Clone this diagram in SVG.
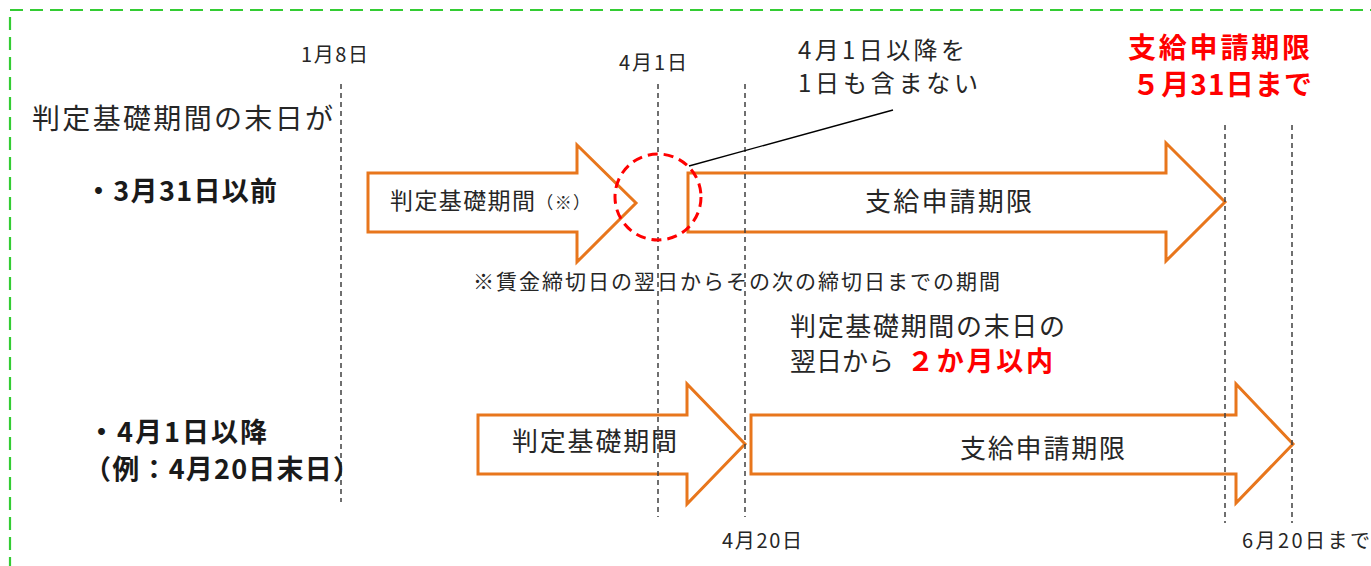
<svg xmlns="http://www.w3.org/2000/svg" width="1371" height="566" viewBox="0 0 1371 566">
<style>
text{font-family:"Noto Sans CJK JP","Noto Sans",sans-serif;fill:#262626}
.b{font-weight:bold;fill:#1a1a1a}
.r{fill:#FF0000;font-weight:bold}
.arrow{fill:#FFFFFF;stroke:#E8761C;stroke-width:3;stroke-linejoin:miter}
.guide{stroke:#404040;stroke-width:1.5;stroke-dasharray:5 4;fill:none}
</style>
<rect x="0" y="0" width="1371" height="566" fill="#FFFFFF"/>
<rect id="frame" x="10" y="10" width="1400" height="600" fill="none" stroke="#33CC33" stroke-width="2.2" stroke-dasharray="13 7"/>

<g id="arrow-top-period">
<polygon class="arrow" points="368,173 577,173 577,145 636,203 577,262 577,232 368,232"/>
<text x="390" y="209" font-size="23" textLength="200" lengthAdjust="spacing">判定基礎期間<tspan font-size="17">（※）</tspan></text>
</g>
<g id="arrow-top-deadline">
<polygon class="arrow" points="688,173 1166,173 1166,143 1225,202 1166,261 1166,232 688,232"/>
<text x="865" y="211" font-size="26" textLength="167" lengthAdjust="spacing">支給申請期限</text>
</g>
<g id="arrow-bottom-period">
<polygon class="arrow" points="478,415 687,415 687,384 745,444 687,504 687,474 478,474"/>
<text x="512" y="451" font-size="26" textLength="165" lengthAdjust="spacing">判定基礎期間</text>
</g>
<g id="arrow-bottom-deadline">
<polygon class="arrow" points="751,415 1236,415 1236,384 1293,444 1236,503 1236,474 751,474"/>
<text x="960" y="458" font-size="26" textLength="165" lengthAdjust="spacing">支給申請期限</text>
</g>

<g id="guides">
<line class="guide" x1="341" y1="84" x2="341" y2="502"/>
<line class="guide" x1="658" y1="84" x2="658" y2="517"/>
<line class="guide" x1="745" y1="84" x2="745" y2="517"/>
<line class="guide" x1="1225" y1="125" x2="1225" y2="523"/>
<line class="guide" x1="1292" y1="125" x2="1292" y2="523"/>
</g>

<g id="highlight-circle">
<circle cx="658" cy="197" r="43" fill="none" stroke="#FF0000" stroke-width="3" stroke-dasharray="10 6"/>
</g>
<g id="connectors">
<line x1="689" y1="166" x2="893" y2="110" stroke="#000000" stroke-width="1.3"/>
</g>

<g id="label-jan8"><text x="301" y="62" font-size="20" textLength="67" lengthAdjust="spacing">1月8日</text></g>
<g id="label-apr1"><text x="619" y="70" font-size="20" textLength="68" lengthAdjust="spacing">4月1日</text></g>
<g id="label-apr20"><text x="722" y="548" font-size="20" textLength="80" lengthAdjust="spacing">4月20日</text></g>
<g id="label-jun20"><text x="1242" y="548" font-size="20" textLength="128" lengthAdjust="spacing">6月20日まで</text></g>

<g id="heading"><text x="32" y="129" font-size="28" textLength="301" lengthAdjust="spacing">判定基礎期間の末日が</text></g>
<g id="case-before"><text class="b" x="85" y="201" font-size="27" textLength="192" lengthAdjust="spacing">・3月31日以前</text></g>
<g id="case-after">
<text class="b" x="88" y="442" font-size="27" textLength="179" lengthAdjust="spacing">・4月1日以降</text>
<text class="b" x="84" y="479" font-size="27" textLength="276" lengthAdjust="spacing">（例：4月20日末日）</text>
</g>

<g id="callout-note">
<text x="798" y="59" font-size="24" textLength="167" lengthAdjust="spacing">4月1日以降を</text>
<text x="798" y="92" font-size="24" textLength="180" lengthAdjust="spacing">1日も含まない</text>
</g>
<g id="deadline-note">
<text class="r" x="1128" y="58" font-size="28" textLength="182" lengthAdjust="spacing">支給申請期限</text>
<text class="r" x="1132" y="95" font-size="28" textLength="180" lengthAdjust="spacing">５月31日まで</text>
</g>
<g id="footnote"><text x="473" y="289" font-size="21" textLength="527" lengthAdjust="spacing">※賃金締切日の翌日からその次の締切日までの期間</text></g>
<g id="two-month-note">
<text x="790" y="336" font-size="26" textLength="275" lengthAdjust="spacing">判定基礎期間の末日の</text>
<text x="790" y="371" font-size="26" textLength="104" lengthAdjust="spacing">翌日から</text>
<text class="r" x="907" y="371" font-size="27" textLength="146" lengthAdjust="spacing">２か月以内</text>
</g>
</svg>
